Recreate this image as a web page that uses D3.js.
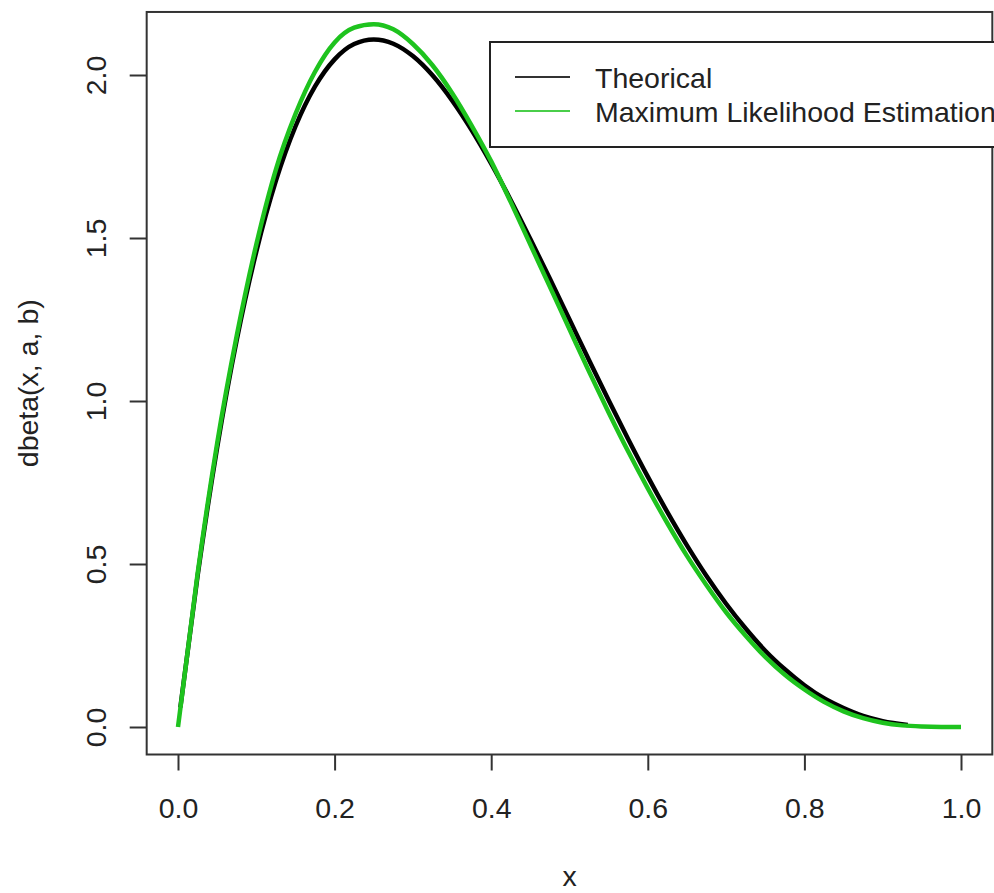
<!DOCTYPE html>
<html>
<head>
<meta charset="utf-8">
<script src="https://cdn.jsdelivr.net/npm/d3@7"></script>
<style>
  body { margin: 0; background: #fff; }
  text { font-family: "Liberation Sans", Arial, sans-serif; fill: #222; }
</style>
</head>
<body>
<svg id="chart" width="994" height="893"></svg>
<script>
// values
const theoX = [0.003, 0.025, 0.05, 0.075, 0.1, 0.125, 0.15, 0.175, 0.2, 0.225, 0.25, 0.275, 0.3, 0.325, 0.35, 0.375, 0.4, 0.425, 0.45, 0.475, 0.5, 0.525, 0.55, 0.575, 0.6, 0.625, 0.65, 0.675, 0.7, 0.725, 0.75, 0.775, 0.8, 0.825, 0.85, 0.875, 0.9, 0.932]
const theoY = [0.06, 0.463, 0.857, 1.187, 1.458, 1.675, 1.842, 1.965, 2.048, 2.095, 2.109, 2.096, 2.058, 1.999, 1.922, 1.831, 1.728, 1.616, 1.497, 1.375, 1.25, 1.125, 1.002, 0.883, 0.768, 0.659, 0.557, 0.463, 0.378, 0.302, 0.234, 0.177, 0.128, 0.088, 0.058, 0.034, 0.018, 0.006]

const mleX = [0, 0.025, 0.05, 0.075, 0.1, 0.125, 0.15, 0.175, 0.2, 0.225, 0.25, 0.275, 0.3, 0.325, 0.35, 0.375, 0.4, 0.425, 0.45, 0.475, 0.5, 0.525, 0.55, 0.575, 0.6, 0.625, 0.65, 0.675, 0.7, 0.725, 0.75, 0.775, 0.8, 0.825, 0.85, 0.875, 0.9, 0.925, 0.95, 0.975, 1.0]
const mleY = [0, 0.47, 0.87, 1.2, 1.48, 1.71, 1.88, 2.01, 2.1, 2.145, 2.156, 2.14, 2.095, 2.03, 1.945, 1.845, 1.735, 1.61, 1.48, 1.35, 1.22, 1.09, 0.965, 0.845, 0.732, 0.625, 0.525, 0.435, 0.352, 0.28, 0.215, 0.16, 0.115, 0.077, 0.048, 0.027, 0.013, 0.005, 0.0015, 0.0002, 0]

const xTicks = [0, 0.2, 0.4, 0.6, 0.8, 1.0]
const yTicks = [0, 0.5, 1.0, 1.5, 2.0]
const seriesNames = ["Theorical", "Maximum Likelihood Estimation"]
const seriesColors = ["#000000", "#1ec31e"]

fontSize = 28.5

svg = d3.select("#chart")

xScale = d3.scaleLinear()
    .domain([0, 1])
    .range([178, 961])

yScale = d3.scaleLinear()
    .domain([0, 2])
    .range([727, 75])

// R style 4% padding around data range
yMax = d3.max(theoY)
x0 = xScale(-0.04), x1 = xScale(1.04)
y0 = yScale(-0.04 * yMax), y1 = yScale(yMax * 1.04)

line = d3.line()
    .x(d => xScale(d[0]))
    .y(d => yScale(d[1]))
    .curve(d3.curveMonotoneX)

svg.append("path")
    .datum(d3.zip(theoX, theoY))
    .attr("d", line)
    .attr("fill", "none")
    .attr("stroke", seriesColors[0])
    .attr("stroke-width", 4.5)
    .attr("stroke-linejoin", "round")

svg.append("path")
    .datum(d3.zip(mleX, mleY))
    .attr("d", line)
    .attr("fill", "none")
    .attr("stroke", seriesColors[1])
    .attr("stroke-width", 4.5)
    .attr("stroke-linejoin", "round")

// axes
xAxis = svg.append("g")
    .attr("transform", `translate(0,${y0})`)
    .call(d3.axisBottom(xScale).tickValues(xTicks).tickFormat(d3.format(".1f")).tickSize(16).tickPadding(0))
xAxis.select(".domain").remove()
xAxis.selectAll("line").attr("stroke", "#333").attr("stroke-width", 2)
xAxis.selectAll("text")
    .attr("y", 63)
    .attr("dy", null)
    .attr("font-size", fontSize)
    .attr("font-family", null)
    .attr("fill", "#222")

yAxis = svg.append("g")
    .attr("transform", `translate(${x0},0)`)
    .call(d3.axisLeft(yScale).tickValues(yTicks).tickFormat(d3.format(".1f")).tickSize(17))
yAxis.select(".domain").remove()
yAxis.selectAll("line").attr("stroke", "#333").attr("stroke-width", 2)
yAxis.selectAll("text")
    .attr("x", null)
    .attr("dy", null)
    .attr("transform", "translate(-41,0) rotate(-90)")
    .attr("text-anchor", "middle")
    .attr("font-size", fontSize)
    .attr("font-family", null)
    .attr("fill", "#222")

// plot box
svg.append("rect")
    .attr("x", x0)
    .attr("y", y1)
    .attr("width", x1 - x0)
    .attr("height", y0 - y1)
    .attr("fill", "none")
    .attr("stroke", "#333")
    .attr("stroke-width", 2)

// axis titles
svg.append("text")
    .attr("x", (x0 + x1) / 2)
    .attr("y", 886)
    .attr("text-anchor", "middle")
    .attr("font-size", fontSize)
    .text("x")

svg.append("text")
    .attr("transform", `translate(38,${(y0 + y1) / 2}) rotate(-90)`)
    .attr("text-anchor", "middle")
    .attr("font-size", fontSize)
    .text("dbeta(x, a, b)")

// legend, runs off the right edge like the original
legend = svg.append("g")
legend.append("rect")
    .attr("x", 490)
    .attr("y", 42)
    .attr("width", 530)
    .attr("height", 105)
    .attr("fill", "#fff")
    .attr("stroke", "#222")
    .attr("stroke-width", 2)

legend.selectAll("line.key")
    .data(seriesNames)
    .join("line")
    .attr("class", "key")
    .attr("x1", 515)
    .attr("x2", 570)
    .attr("y1", (d, i) => 77 + i * 34)
    .attr("y2", (d, i) => 77 + i * 34)
    .attr("stroke", (d, i) => seriesColors[i])
    .attr("stroke-width", 2)
    .attr("opacity", 0.8)

legend.selectAll("text")
    .data(seriesNames)
    .join("text")
    .attr("x", 595)
    .attr("y", (d, i) => 88 + i * 34)
    .attr("font-size", fontSize)
    .text(d => d)
</script>
</body>
</html>
